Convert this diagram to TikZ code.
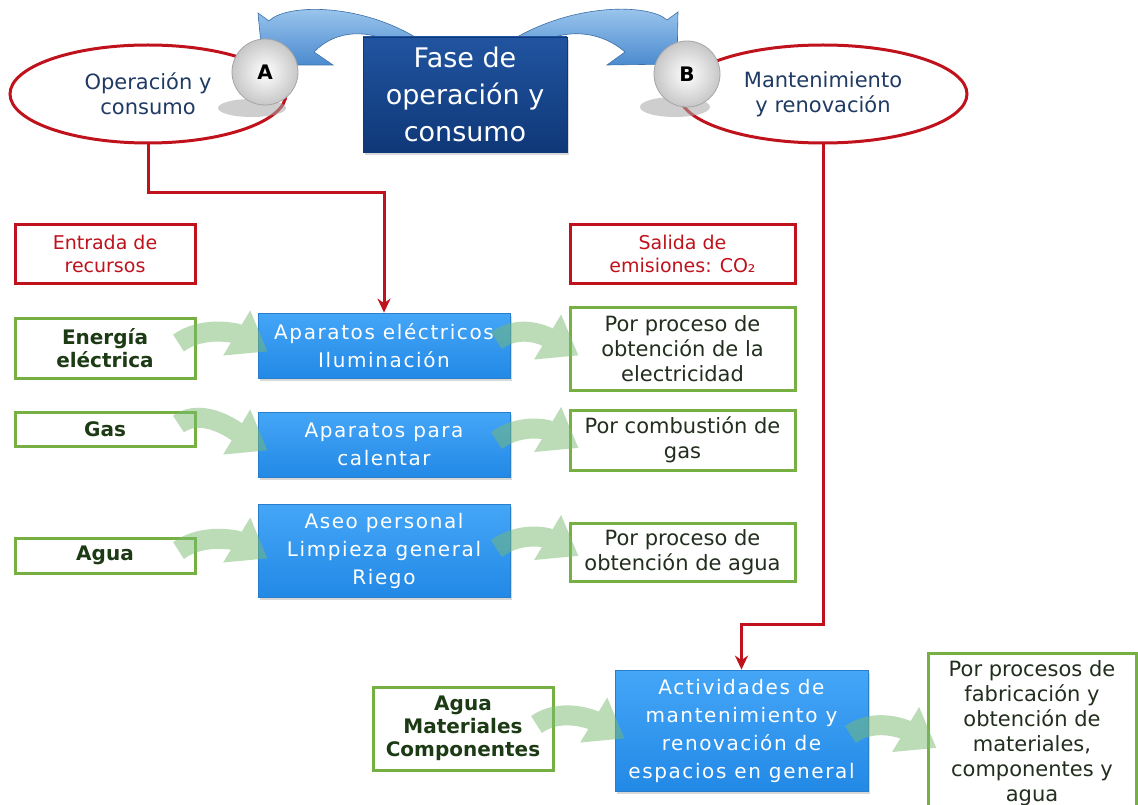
\documentclass[tikz,border=0pt]{standalone}
\usepackage{fontspec}
\setmainfont{DejaVu Sans}
\newfontfamily\spacedfont[LetterSpace=8]{DejaVu Sans}
\usetikzlibrary{shapes.geometric,arrows.meta,shadows,calc}

\definecolor{cRed}{HTML}{C0121C}
\definecolor{cNavy}{HTML}{1F3B63}
\definecolor{cGreen}{HTML}{76B043}
\definecolor{cDarkGreen}{HTML}{1C3A14}
\definecolor{cOutText}{HTML}{222E1E}
\definecolor{cBlueTop}{HTML}{45A6F7}
\definecolor{cBlueBot}{HTML}{2289E6}
\definecolor{cBlueEdge}{HTML}{2A7FCC}
\definecolor{cNavyTop}{HTML}{2154A0}
\definecolor{cNavyBot}{HTML}{0F3878}
\definecolor{cArrowTop}{HTML}{A3CBF0}
\definecolor{cArrowBot}{HTML}{4B8BCF}
\definecolor{cFlow}{HTML}{78BA70}

\begin{document}
\begin{tikzpicture}[x=1pt,y=-1pt,
  sz/.style 2 args={minimum width=#1, minimum height=#2},
  oval/.style={ellipse, draw=cRed, line width=3pt, fill=white, inner sep=0pt,
    align=center, text=cNavy, font=\fontsize{21}{25}\selectfont},
  redbox/.style={rectangle, draw=cRed, line width=3pt, fill=white, inner sep=0pt,
    align=center, text=cRed, font=\fontsize{19}{23}\selectfont},
  inbox/.style={rectangle, draw=cGreen, line width=3pt, fill=white, inner sep=0pt,
    align=center, text=cDarkGreen, font=\bfseries\fontsize{20}{23}\selectfont},
  outbox/.style={rectangle, draw=cGreen, line width=3pt, fill=white, inner sep=0pt,
    align=center, text=cOutText, font=\fontsize{21}{25}\selectfont},
  procbox/.style={rectangle, top color=cBlueTop, bottom color=cBlueBot, draw=cBlueEdge,
    line width=0.8pt, inner sep=0pt, align=center, text=white,
    font=\spacedfont\fontsize{20}{28}\selectfont,
    drop shadow={shadow xshift=2pt, shadow yshift=-3pt, opacity=0.3}},
  phasebox/.style={rectangle, top color=cNavyTop, bottom color=cNavyBot, draw=cNavyBot,
    line width=0.8pt, inner sep=0pt, align=center, text=white,
    font=\fontsize{27}{37}\selectfont,
    drop shadow={shadow xshift=2pt, shadow yshift=-3pt, opacity=0.3}},
  ball/.style={circle, minimum size=66pt, inner sep=0pt, inner color=white,
    outer color=black!22, draw=black!35, line width=0.8pt,
    font=\bfseries\fontsize{20}{22}\selectfont},
  ballshadow/.style={fill=black!35, opacity=0.55},
  bigarrow/.style={top color=cArrowTop, bottom color=cArrowBot, draw=cArrowBot!80!black,
    line width=0.6pt},
  redline/.style={draw=cRed, line width=3pt, -{Stealth[length=14pt,width=13pt]}},
  flow/.style={draw=cFlow, line width=20pt, -{Triangle[width=50pt,length=36pt]}}
]
\useasboundingbox (0,0) rectangle (1138,805);
\fill[white] (0,0) rectangle (1138,805);

% phase ovals
\node[oval, sz={276pt}{98pt}] (ellA) at (148,94) {Operación y\\consumo};
\node[oval, sz={288pt}{98pt}] (ellB) at (823,94) {Mantenimiento\\y renovación};

% curved arrows leaving the phase box
\path[bigarrow] (258,13) -- (269,21) .. controls (285,4) and (360,2) .. (420,40)
  -- (400,48) .. controls (370,27) and (335,30) .. (314,52)
  -- (333,65) -- (263,65) -- cycle;
\path[bigarrow] (678,12) -- (667,20) .. controls (650,4) and (575,2) .. (512,40)
  -- (532,48) .. controls (562,27) and (600,30) .. (625,52)
  -- (607,65) -- (677,64) -- cycle;

\node[phasebox, sz={204pt}{115pt}] (fase) at (465,94.5) {Fase de\\operación y\\consumo};

% marker balls
\fill[ballshadow] (252,108) ellipse [x radius=34, y radius=9];
\fill[ballshadow] (675,107) ellipse [x radius=35, y radius=10];
\node[ball] (ballA) at (265,72) {A};
\node[ball] (ballB) at (687,74) {B};

% column headers
\node[redbox, sz={180pt}{58pt}] (entrada) at (105,254) {Entrada de\\recursos};
\node[redbox, sz={225pt}{58pt}] (salida) at (682.5,254) {Salida de\\emisiones: CO₂};

% resource inputs
\node[inbox, sz={180pt}{60pt}] (in1) at (105,348) {Energía\\eléctrica};
\node[inbox, sz={180pt}{34pt}] (in2) at (105,429) {Gas};
\node[inbox, sz={180pt}{35pt}] (in3) at (105,555.5) {Agua};
\node[inbox, sz={180pt}{83pt}] (in4) at (463,728.5) {Agua\\Materiales\\Componentes};

% consuming activities
\node[procbox, sz={252pt}{65pt}] (blue1) at (384,345.5) {Aparatos eléctricos\\Iluminación};
\node[procbox, sz={252pt}{65pt}] (blue2) at (384,444.5) {Aparatos para\\calentar};
\node[procbox, sz={252pt}{93pt}] (blue3) at (384,550.5) {Aseo personal\\Limpieza general\\Riego};
\node[procbox, sz={253pt}{121pt}] (blue4) at (741.5,730.5)
  {Actividades de\\mantenimiento y\\renovación de\\espacios en general};

% emission sources
\node[outbox, sz={225pt}{83pt}] (out1) at (682.5,348.5) {Por proceso de\\obtención de la\\electricidad};
\node[outbox, sz={225pt}{60pt}] (out2) at (682.5,440) {Por combustión de\\gas};
\node[outbox, sz={225pt}{58pt}] (out3) at (682.5,552) {Por proceso de\\obtención de agua};
\node[outbox, sz={208pt}{160pt}] (out4) at (1032,733)
  {Por procesos de\\fabricación y\\obtención de\\materiales,\\componentes y\\agua};

% links from the phases
\draw[redline] (ellA.south) -- ++(0,48) -| (blue1.north);
\draw[redline] (ellB.south) -- ++(0,480) -| (blue4.north);

% resource and emission flows
\begin{scope}[transparency group, opacity=0.5]
  \draw[flow] ($(in1.east)+(-18,-5)$) .. controls +(25,-18) and +(-30,-18) .. ($(blue1.west)+(10,6)$);
  \draw[flow] ($(in2.east)+(-18,-5)$) .. controls +(25,-18) and +(-30,-18) .. ($(blue2.west)+(10,6)$);
  \draw[flow] ($(in3.east)+(-18,-5)$) .. controls +(25,-18) and +(-30,-18) .. ($(blue3.west)+(10,8)$);
  \draw[flow] ($(blue1.east)+(-14,-5)$) .. controls +(25,-18) and +(-30,-18) .. ($(out1.west)+(10,7)$);
  \draw[flow] ($(blue2.east)+(-14,-4)$) .. controls +(25,-18) and +(-30,-18) .. ($(out2.west)+(10,8)$);
  \draw[flow] ($(blue3.east)+(-14,-2)$) .. controls +(25,-18) and +(-30,-18) .. ($(out3.west)+(10,4)$);
  \draw[flow] ($(in4.east)+(-18,-4)$) .. controls +(25,-18) and +(-30,-18) .. ($(blue4.west)+(10,8)$);
  \draw[flow] ($(blue4.east)+(-18,4)$) .. controls +(25,-18) and +(-30,-18) .. ($(out4.west)+(10,15)$);
\end{scope}
\end{tikzpicture}
\end{document}
